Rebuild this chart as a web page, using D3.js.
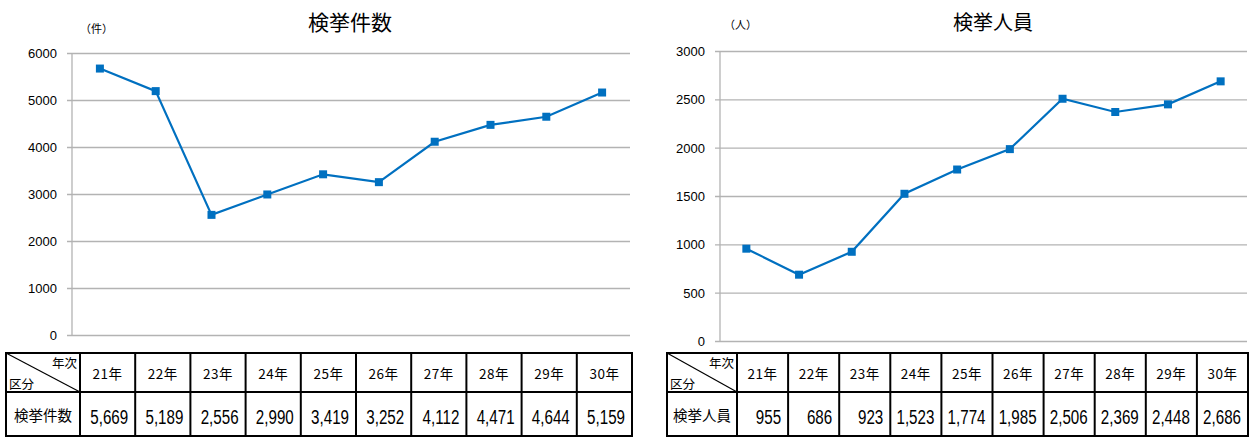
<!DOCTYPE html>
<html><head><meta charset="utf-8">
<script src="https://cdn.jsdelivr.net/npm/d3@7"></script>
<style>
html,body{margin:0;padding:0;background:#fff;}
svg{display:block;}
</style></head>
<body>
<svg id="c" width="1252" height="437"></svg>
<script>
// Year labels shared by both charts
const years = ["21年","22年","23年","24年","25年","26年","27年","28年","29年","30年"];
// 検挙件数 (cases cleared)
const caseCounts = [5669,5189,2556,2990,3419,3252,4112,4471,4644,5159];
// 検挙人員 (persons arrested)
const personCounts = [955,686,923,1523,1774,1985,2506,2369,2448,2686];
const caseTicks = [0,1000,2000,3000,4000,5000,6000];
const personTicks = [0,500,1000,1500,2000,2500,3000];

const svg = d3.select("#c");
const JP = "'Noto Sans CJK JP','Noto Sans',sans-serif";
const NUM = "'Liberation Sans',Arial,sans-serif";
const fmt = d3.format(",");

function panel(cfg) {
  const g = svg.append("g");
  const x = d3.scaleBand().domain(years).range([cfg.x0, cfg.x1]);
  const y = d3.scaleLinear().domain([0, cfg.max]).range([cfg.yBottom, cfg.yTop]);

  // horizontal gridlines with short tick stubs on the left
  const yAxis = d3.axisLeft(y).tickValues(cfg.ticks)
    .tickSize(-(cfg.x1 - cfg.x0)).tickFormat("");
  const ga = g.append("g").attr("transform", `translate(${cfg.x0},0)`).call(yAxis);
  ga.select(".domain").remove();
  ga.selectAll(".tick line").attr("stroke", "#b3b3b3").attr("stroke-width", 1.3)
    .attr("x1", -5);
  // tick labels
  g.selectAll("text.tk").data(cfg.ticks).join("text").attr("class", "tk")
    .attr("x", cfg.x0 - 15).attr("y", d => y(d) + 5)
    .attr("font-family", NUM).attr("font-size", 13).attr("fill", "#000")
    .attr("text-anchor", "end").text(d => d);
  // vertical axis line
  g.append("line").attr("x1", cfg.x0).attr("x2", cfg.x0)
    .attr("y1", cfg.yTop).attr("y2", cfg.yBottom)
    .attr("stroke", "#b3b3b3").attr("stroke-width", 1.3);

  // title and unit
  g.append("text").attr("x", cfg.titleX).attr("y", 30).attr("text-anchor", "middle")
    .attr("font-family", JP).attr("font-size", cfg.titleSize).attr("fill", "#000")
    .text(cfg.title);
  g.append("text").attr("x", cfg.unitX).attr("y", cfg.unitY)
    .attr("font-family", JP).attr("font-size", 11).attr("fill", "#000")
    .text(cfg.unit);

  // series line and square markers
  const cx = d => x(d.k) + x.bandwidth() / 2;
  const pts = cfg.values.map((v, i) => ({k: years[i], v}));
  g.append("path").datum(pts)
    .attr("d", d3.line().x(cx).y(d => y(d.v)))
    .attr("fill", "none").attr("stroke", "#0070c0").attr("stroke-width", 2.2);
  g.selectAll("rect.m").data(pts).join("rect").attr("class", "m")
    .attr("x", d => cx(d) - 4).attr("y", d => y(d.v) - 4)
    .attr("width", 8).attr("height", 8).attr("fill", "#0070c0");

  // data table beneath the chart
  const tTop = 353, tMid = 392, tBot = 436;
  const tx = d3.scaleBand().domain(years).range([cfg.tHead, cfg.tRight]);
  const t = g.append("g");
  const L = cfg.tLeft;
  t.append("rect").attr("x", L).attr("y", tTop).attr("width", cfg.tRight - L)
    .attr("height", tBot - tTop).attr("fill", "none").attr("stroke", "#000").attr("stroke-width", 2);
  t.append("line").attr("x1", L).attr("x2", cfg.tRight).attr("y1", tMid).attr("y2", tMid)
    .attr("stroke", "#000").attr("stroke-width", 2);
  t.selectAll("line.v").data(years).join("line").attr("class", "v")
    .attr("x1", d => tx(d)).attr("x2", d => tx(d)).attr("y1", tTop).attr("y2", tBot)
    .attr("stroke", "#000").attr("stroke-width", 2);
  // diagonal split in the corner cell
  t.append("line").attr("x1", L).attr("y1", tTop).attr("x2", cfg.tHead).attr("y2", tMid)
    .attr("stroke", "#000").attr("stroke-width", 1.2);
  t.append("text").attr("x", cfg.tHead - 3).attr("y", 368).attr("text-anchor", "end")
    .attr("font-family", JP).attr("font-size", 12.5).text("年次");
  t.append("text").attr("x", L + 3).attr("y", 389)
    .attr("font-family", JP).attr("font-size", 12.5).text("区分");
  t.selectAll("text.yr").data(years).join("text").attr("class", "yr")
    .attr("x", d => tx(d) + tx.bandwidth() / 2).attr("y", 379)
    .attr("text-anchor", "middle").attr("font-family", JP).attr("font-size", 13.5)
    .attr("letter-spacing", 0.5).text(d => d);
  t.append("text").attr("x", (L + cfg.tHead) / 2).attr("y", 421)
    .attr("text-anchor", "middle").attr("font-family", JP).attr("font-size", 14.5)
    .text(cfg.title);
  // values in condensed numerals, right-aligned in each cell
  t.selectAll("text.val").data(pts).join("text").attr("class", "val")
    .attr("transform", d => `translate(${tx(d.k) + tx.bandwidth() - 7},424) scale(0.74,1)`)
    .attr("text-anchor", "end").attr("font-family", NUM).attr("font-size", 20.5)
    .attr("fill", "#000").text(d => fmt(d.v));
}

panel({
  title: "検挙件数", unit: "（件）", values: caseCounts, ticks: caseTicks, max: 6000,
  x0: 72, x1: 630, yTop: 53, yBottom: 335, titleX: 350, titleSize: 21,
  unitX: 80, unitY: 33,
  tLeft: 6, tHead: 80, tRight: 632
});
panel({
  title: "検挙人員", unit: "（人）", values: personCounts, ticks: personTicks, max: 3000,
  x0: 720, x1: 1247, yTop: 51, yBottom: 341, titleX: 993, titleSize: 20,
  unitX: 724, unitY: 29,
  tLeft: 667, tHead: 737, tRight: 1248
});
</script>
</body></html>
